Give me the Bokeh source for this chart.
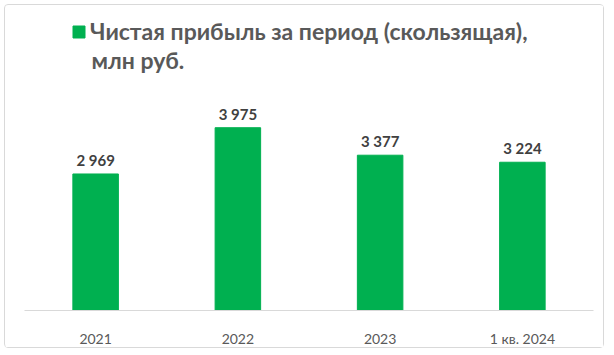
from bokeh.plotting import figure
from bokeh.models import Legend, LegendItem, Label, Range1d, ColumnDataSource
from bokeh.core.properties import value
from bokeh.embed import file_html
from bokeh.resources import INLINE

categories = ["2021", "2022", "2023", "1 кв. 2024"]
profit = [2969, 3975, 3377, 3224]
value_labels = ["2 969", "3 975", "3 377", "3 224"]
title_line1 = "Чистая прибыль за период (скользящая),"
title_line2 = "млн руб."

GREEN = "#00B050"
FONT = "Lato"

src = ColumnDataSource(dict(cat=categories, top=profit, label=value_labels))

p = figure(width=600, height=344, x_range=categories, y_range=Range1d(0, 6611),
           output_backend="svg", toolbar_location=None, y_axis_location=None,
           min_border_left=19, min_border_right=12, min_border_top=1, min_border_bottom=37)
p.styles = {"border": "1.5px solid #d9d9d9", "border-radius": "4px",
            "margin-left": "4px", "margin-top": "4px"}
p.x_range.range_padding = 0
p.outline_line_color = None
p.xgrid.grid_line_color = None
p.ygrid.grid_line_color = None
p.background_fill_color = "white"
p.border_fill_color = "white"

bars = p.vbar(x="cat", top="top", width=0.32, source=src, color=GREEN)
p.text(x="cat", y="top", text="label", source=src, text_align="center",
       text_baseline="alphabetic", y_offset=-14, text_font=value(FONT),
       text_font_style="bold", text_font_size="15px", text_color="#404040")

ax = p.xaxis[0]
ax.axis_line_color = "#d9d9d9"
ax.major_tick_line_color = None
ax.minor_tick_line_color = None
ax.major_tick_out = 0
ax.major_label_standoff = 19
ax.major_label_text_font = FONT
ax.major_label_text_font_size = "14px"
ax.major_label_text_color = "#595959"

legend = Legend(items=[LegendItem(label=title_line1, renderers=[bars])],
                location=(47, 265), padding=0, margin=0, border_line_color=None,
                background_fill_alpha=0, glyph_width=15, glyph_height=15,
                label_standoff=4, label_text_font=FONT, label_text_font_style="bold",
                label_text_font_size="23px", label_text_color="#595959")
p.add_layout(legend)

p.add_layout(Label(x=67, y=251, x_units="screen", y_units="screen", text=title_line2,
                   text_font=FONT, text_font_style="bold", text_font_size="23px",
                   text_color="#595959", text_baseline="alphabetic"))

open("out.html", "w").write(file_html(p, INLINE))
